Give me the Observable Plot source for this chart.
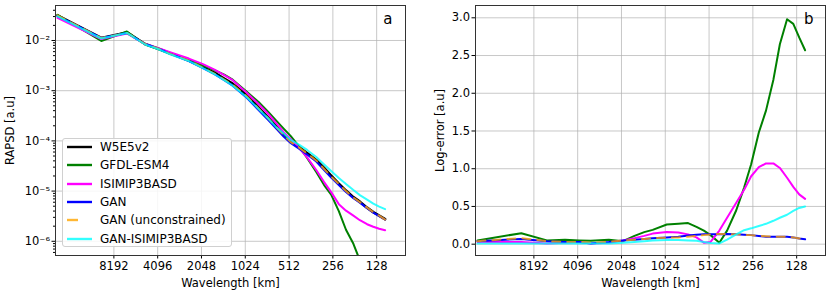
<!DOCTYPE html>
<html><head><meta charset="utf-8">
<script src="https://cdn.jsdelivr.net/npm/d3@7"></script>
<script src="https://cdn.jsdelivr.net/npm/@observablehq/plot@0.6"></script>
<style>
body{margin:0;background:#fff;}
#wrap{position:relative;width:831px;height:293px;font-family:"DejaVu Sans",sans-serif;overflow:hidden;}
#pa{position:absolute;left:0;top:0;}
#pb{position:absolute;left:415px;top:0;}
#leg{position:absolute;left:62px;top:138px;width:170px;height:109px;background:rgba(255,255,255,0.85);border:1px solid #d0d0d0;border-radius:3px;box-sizing:border-box;font-size:12px;}
.row{position:absolute;left:0;height:18px;line-height:18px;white-space:nowrap;}
.row svg{position:absolute;left:3px;top:0;}
.row span{position:absolute;left:37px;}
</style></head><body>
<div id="wrap"><div id="pa"></div><div id="pb"></div><div id="leg"></div></div>
<script>
// Wavelength (km) of each sample (shared by all series)
const wavelength = [20000,10000,6667,5000,4000,3333,2500,2000,1667,1429,1250,1000,833,714,625,556,500,435,385,333,294,263,233,208,185,167,149,135,123,112];

const seriesNames = ["W5E5v2","GFDL-ESM4","ISIMIP3BASD","GAN","GAN (unconstrained)","GAN-ISIMIP3BASD"];
const seriesColors = ["#000000","#008000","#ff00ff","#0000ff","#ffa500","#00ffff"];

// Panel a: RAPSD, stored as log10 exponents
const rapsdW5E5 = [-1.50,-1.95,-1.84,-2.07,-2.17,-2.26,-2.40,-2.53,-2.64,-2.76,-2.86,-3.09,-3.33,-3.53,-3.71,-3.87,-4.00,-4.13,-4.24,-4.38,-4.54,-4.69,-4.85,-4.99,-5.12,-5.21,-5.33,-5.42,-5.49,-5.56];
const rapsdGFDL = [-1.49,-2.01,-1.82,-2.08,-2.18,-2.27,-2.38,-2.50,-2.59,-2.68,-2.78,-3.02,-3.22,-3.42,-3.60,-3.76,-3.90,-4.12,-4.34,-4.62,-4.88,-5.07,-5.40,-5.77,-6.05,-6.38,-6.90,-7.30,-7.60,-7.80];
const rapsdISIMIP = [-1.55,-1.97,-1.86,-2.07,-2.16,-2.24,-2.36,-2.47,-2.58,-2.69,-2.79,-3.04,-3.26,-3.46,-3.65,-3.83,-3.96,-4.15,-4.33,-4.58,-4.82,-5.02,-5.26,-5.39,-5.49,-5.58,-5.66,-5.71,-5.75,-5.78];
const rapsdGAN = [-1.51,-1.95,-1.85,-2.07,-2.17,-2.27,-2.41,-2.55,-2.67,-2.79,-2.90,-3.14,-3.38,-3.58,-3.76,-3.92,-4.04,-4.16,-4.27,-4.41,-4.58,-4.73,-4.88,-5.02,-5.14,-5.23,-5.34,-5.43,-5.50,-5.57];
const rapsdGANunc = [-1.50,-1.95,-1.85,-2.07,-2.17,-2.27,-2.40,-2.54,-2.66,-2.78,-2.88,-3.11,-3.35,-3.55,-3.73,-3.89,-4.02,-4.14,-4.25,-4.39,-4.56,-4.71,-4.86,-5.00,-5.13,-5.22,-5.33,-5.42,-5.49,-5.57];
const rapsdGANISI = [-1.52,-1.96,-1.85,-2.08,-2.18,-2.28,-2.41,-2.55,-2.67,-2.79,-2.90,-3.13,-3.36,-3.55,-3.73,-3.86,-3.98,-4.08,-4.18,-4.32,-4.47,-4.60,-4.74,-4.86,-4.98,-5.08,-5.17,-5.25,-5.31,-5.36];

// Panel b: log-error
const errGFDL = [0.05,0.146,0.05,0.06,0.05,0.045,0.06,0.04,0.11,0.16,0.19,0.26,0.27,0.28,0.23,0.18,0.12,0.02,0.18,0.45,0.75,1.06,1.48,1.77,2.18,2.65,2.98,2.92,2.74,2.57];
const errISIMIP = [0.03,0.03,0.01,0.02,0.03,0.01,0.02,0.05,0.08,0.11,0.14,0.16,0.155,0.13,0.09,0.02,0.03,0.18,0.35,0.55,0.72,0.90,1.02,1.07,1.07,1.01,0.88,0.76,0.66,0.60];
const errGAN = [0.04,0.07,0.04,0.03,0.03,0.01,0.03,0.05,0.06,0.07,0.08,0.09,0.10,0.115,0.125,0.13,0.13,0.13,0.135,0.13,0.125,0.12,0.11,0.10,0.10,0.10,0.10,0.09,0.075,0.065];
const errGANunc = [0.04,0.08,0.04,0.03,0.03,0.02,0.03,0.05,0.06,0.07,0.08,0.085,0.09,0.10,0.11,0.12,0.13,0.135,0.135,0.13,0.125,0.12,0.11,0.105,0.10,0.10,0.10,0.09,0.075,0.065];
const errGANISI = [0.01,0.01,0.01,0.01,0.01,0.01,0.01,0.02,0.03,0.04,0.05,0.055,0.055,0.05,0.045,0.03,0.015,0.01,0.06,0.13,0.185,0.21,0.24,0.27,0.31,0.35,0.39,0.44,0.48,0.50];

const xTicks = [8192,4096,2048,1024,512,256,128];
const yMajorA = [1e-2,1e-3,1e-4,1e-5,1e-6];
const yTicksB = [0,0.5,1.0,1.5,2.0,2.5,3.0];

const styleOf = {
  "W5E5v2": {stroke:"#000000", strokeWidth:2.6},
  "GFDL-ESM4": {stroke:"#008000", strokeWidth:2},
  "ISIMIP3BASD": {stroke:"#ff00ff", strokeWidth:2},
  "GAN": {stroke:"#0000ff", strokeWidth:2},
  "GAN (unconstrained)": {stroke:"#ffa500", strokeWidth:2, strokeOpacity:0.8, strokeDasharray:"8,7"},
  "GAN-ISIMIP3BASD": {stroke:"#00ffff", strokeWidth:2, strokeOpacity:0.8}
};

const rapsdSeries = [rapsdW5E5, rapsdGFDL, rapsdISIMIP, rapsdGAN, rapsdGANunc, rapsdGANISI];
const tableA = seriesNames.map((name, s) => rapsdSeries[s].map((e, i) => ({name, wl: wavelength[i], v: Math.pow(10, e)})));
const errSeries = [null, errGFDL, errISIMIP, errGAN, errGANunc, errGANISI];
const tableB = seriesNames.map((name, s) => errSeries[s] ? errSeries[s].map((v, i) => ({name, wl: wavelength[i], v})) : null);

const supMap = {"-":"⁻","0":"⁰","1":"¹","2":"²","3":"³","4":"⁴","5":"⁵","6":"⁶","7":"⁷","8":"⁸","9":"⁹"};
const supFmt = d => "10" + String(Math.round(Math.log10(d))).split("").map(c => supMap[c]).join("");

const yMinorA = [];
for (let e = -7; e <= -2; e++) for (let m = 2; m <= 9; m++) { const v = m * Math.pow(10, e); if (v > 5.21e-7 && v < 0.0498) yMinorA.push(v); }

const baseStyle = {fontFamily:"DejaVu Sans", fontSize:"11.5px", color:"black", background:"white", overflow:"visible"};
const xOpts = {type:"log", base:2, domain:[20640, 81.1], label:null};

function lineMarks(tables) {
  return tables.filter(t => t).map(t => Plot.line(t, {x:"wl", y:"v", curve:"linear", clip:true, strokeLinejoin:"round", ...styleOf[t[0].name]}));
}

const pa = Plot.plot({
  width:415, height:293, marginLeft:55, marginRight:10, marginTop:5, marginBottom:38,
  style: baseStyle,
  x: xOpts,
  y: {type:"log", domain:[5.21e-7, 0.0498], label:null},
  marks: [
    Plot.gridX(xTicks, {stroke:"#b0b0b0", strokeOpacity:0.7}),
    Plot.gridY(yMajorA, {stroke:"#b0b0b0", strokeOpacity:0.7}),
    Plot.axisY(yMinorA, {tickSize:2, tickFormat:() => "", label:null}),
    ...lineMarks(tableA),
    Plot.axisX(xTicks, {tickSize:3.5, tickPadding:3, tickFormat:d => String(d), label:"Wavelength [km]", labelAnchor:"center", labelArrow:"none", labelOffset:31}),
    Plot.axisY(yMajorA, {tickSize:3.5, tickPadding:2, tickFormat:supFmt, label:"RAPSD [a.u]", labelAnchor:"center", labelArrow:"none", labelOffset:50}),
    Plot.frame({stroke:"#333"}),
    Plot.text(["a"], {frameAnchor:"top-right", dx:-13, dy:8, fontSize:15})
  ]
});
document.getElementById("pa").appendChild(pa);

const pb = Plot.plot({
  width:416, height:293, marginLeft:60, marginRight:6, marginTop:5, marginBottom:38,
  style: baseStyle,
  x: xOpts,
  y: {domain:[-0.150, 3.163], label:null},
  marks: [
    Plot.gridX(xTicks, {stroke:"#b0b0b0", strokeOpacity:0.7}),
    Plot.gridY(yTicksB, {stroke:"#b0b0b0", strokeOpacity:0.7}),
    ...lineMarks(tableB),
    Plot.axisX(xTicks, {tickSize:3.5, tickPadding:3, tickFormat:d => String(d), label:"Wavelength [km]", labelAnchor:"center", labelArrow:"none", labelOffset:31}),
    Plot.axisY(yTicksB, {tickSize:3.5, tickPadding:2, tickFormat:d3.format(".1f"), label:"Log-error [a.u]", labelAnchor:"center", labelArrow:"none", labelOffset:40}),
    Plot.frame({stroke:"#333"}),
    Plot.text(["b"], {frameAnchor:"top-right", dx:-12, dy:8, fontSize:15})
  ]
});
document.getElementById("pb").appendChild(pb);

// Legend
const leg = document.getElementById("leg");
seriesNames.forEach((name, i) => {
  const st = styleOf[name];
  const row = document.createElement("div");
  row.className = "row";
  row.style.top = (i * 18.3 - 1) + "px";
  const isDash = !!st.strokeDasharray;
  row.innerHTML = `<svg width="28" height="18"><line x1="1" x2="${isDash ? 12 : 26}" y1="9" y2="9" stroke="${st.stroke}" stroke-opacity="${st.strokeOpacity || 1}" stroke-width="2.4"/></svg><span>${name}</span>`;
  leg.appendChild(row);
});
</script>
</body></html>
